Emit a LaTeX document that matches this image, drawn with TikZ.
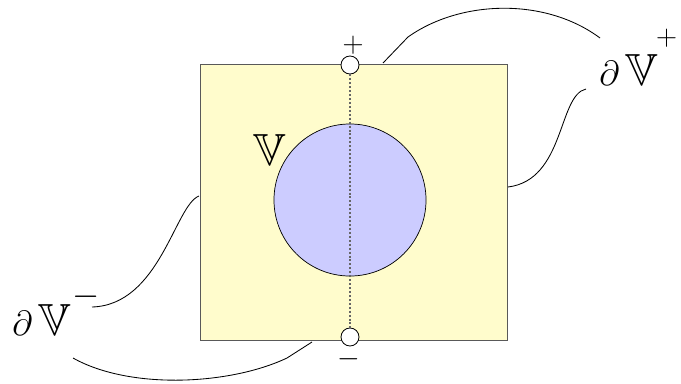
\documentclass[tikz,border=0pt]{standalone}
\usepackage{amsmath,amssymb}
\usetikzlibrary{positioning}
\tikzset{
    region/.style={rectangle, draw=black!65, fill=yellow!20, line width=0.7pt, minimum width=7.65cm, minimum height=6.875cm, inner sep=0pt},
    ball/.style={circle, draw=black, fill=blue!20, line width=0.5pt, minimum size=3.8cm, inner sep=0pt},
    terminal/.style={circle, draw=black, fill=white, line width=0.6pt, minimum size=0.45cm, inner sep=0pt},
    cut/.style={draw=black!60, line width=0.8pt, dash pattern=on 1.4pt off 1.4pt},
    lead/.style={draw=black, line width=0.6pt},
    lbl/.style={inner sep=0pt, font=\fontsize{32}{36}\selectfont},
    sign/.style={inner sep=0pt, font=\fontsize{21}{24}\selectfont}
}
\newcommand{\supsign}[4]{\hspace{#1}\raisebox{#2}{\fontsize{#3}{24}\selectfont$#4$}}
\begin{document}
\begin{tikzpicture}[x=0.025cm, y=-0.025cm]
        \useasboundingbox (0,0) rectangle (681,383);

        % --- Region and inner ball ---
        \node (region) [region] at (354,202.5) {};
        \node (ball) [ball] at (350,200) {};
        \node (vlabel) [lbl, anchor=base west] at (253,165) {$\mathbb{V}$};

        % --- Terminals and the cut between them ---
        \node (top) [terminal] at (350,65) {};
        \node (bottom) [terminal] at (350,337) {};
        \draw [cut] (top) -- (bottom);
        \node (plus) [sign, anchor=base] at (353,52) {$+$};
        \node (minus) [sign, anchor=base] at (349,366) {$-$};

        % --- Boundary labels ---
        \node (bplus) [lbl, anchor=base west] at (599,85) {$\partial\,\mathbb{V}$\supsign{-1pt}{28pt}{20}{+}};
        \node (bminus) [lbl, anchor=base west] at (12,335) {$\partial\,\mathbb{V}$\supsign{1pt}{21pt}{23}{-}};

        % Leader ends
        \coordinate (tipA) at (383,63);
        \coordinate (bendA) at (408,37);
        \coordinate (endA) at (600,38);
        \coordinate (tipB) at (508,187);
        \coordinate (endB) at (586,89);
        \coordinate (tipC) at (199,196);
        \coordinate (endC) at (92,307);
        \coordinate (tipD) at (312,342);
        \coordinate (bendD) at (287,358);
        \coordinate (endD) at (73,358);

        % --- Leaders ---
        \draw [lead] (tipA) -- (bendA) .. controls (460,0) and (545,-3) .. (endA);
        \draw [lead] (tipB) .. controls (565,180) and (558,95) .. (endB);
        \draw [lead] (tipC) .. controls (175,205) and (160,305) .. (endC);
        \draw [lead] (tipD) -- (bendD) .. controls (230,385) and (130,390) .. (endD);

    \end{tikzpicture}
\end{document}
